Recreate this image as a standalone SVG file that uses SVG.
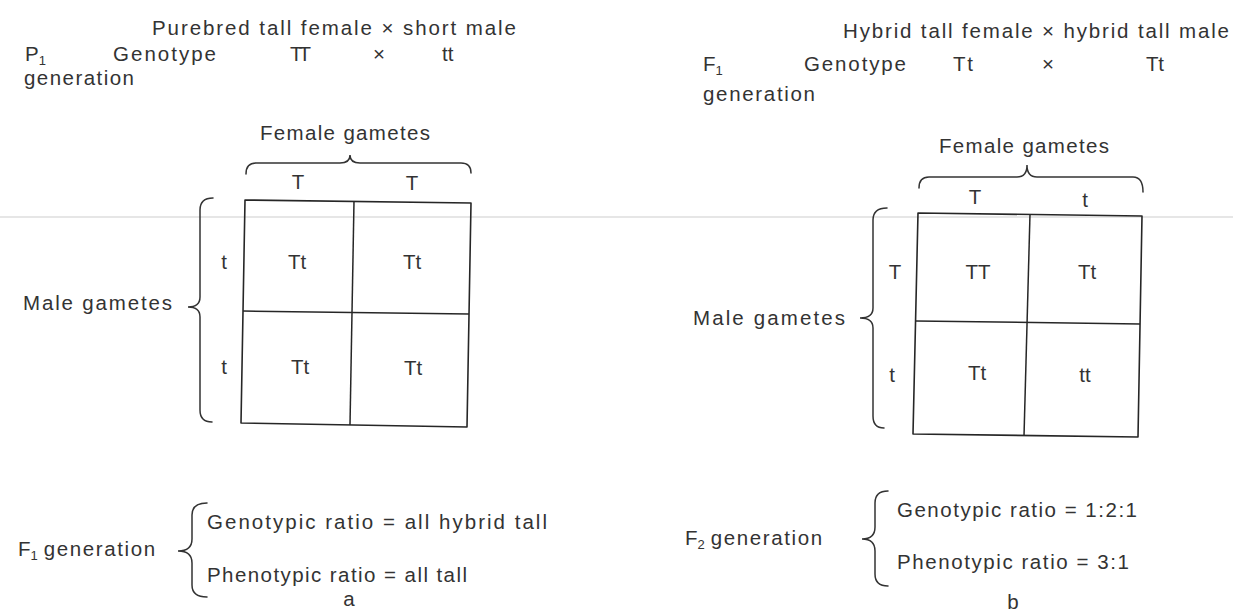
<svg xmlns="http://www.w3.org/2000/svg" width="1233" height="611" viewBox="0 0 1233 611">
<style>
text { font-family: "Liberation Sans", Arial, sans-serif; font-size: 20.5px; fill: #333; }
.c { text-anchor: middle; }
.sub { font-size: 13px; }
.sp { letter-spacing: 1.6px; }
.grid { fill: none; stroke: #262626; stroke-width: 1.6; stroke-linejoin: round; }
.div { stroke: #262626; stroke-width: 1.5; }
.brace { fill: none; stroke: #333; stroke-width: 1.5; stroke-linecap: round; }
</style>
<rect width="1233" height="611" fill="#fff"/>
<line x1="0" y1="217" x2="1233" y2="217" stroke="#e6e6e6" stroke-width="2"/>

<g id="panel-a">
  <g id="a-header">
    <text x="152" y="35" textLength="364">Purebred tall female × short male</text>
    <text x="25" y="61">P<tspan class="sub" dy="4">1</tspan></text>
    <text x="113" y="61" textLength="103">Genotype</text>
    <text x="290" y="61" textLength="21">TT</text>
    <text x="379" y="61" class="c">×</text>
    <text x="442" y="61">tt</text>
    <text x="24" y="85" textLength="110">generation</text>
  </g>
  <g id="a-female">
    <text x="345" y="140" class="c" textLength="170">Female gametes</text>
    <path class="brace" d="M246,174 Q246,163 256,163 L340,163 Q350,163 350,155 Q350,163 360,163 L461,163 Q471,163 471,173"/>
    <text x="298" y="189" class="c">T</text>
    <text x="412" y="190" class="c">T</text>
  </g>
  <g id="a-male">
    <text x="23" y="310" textLength="149">Male gametes</text>
    <path class="brace" d="M213,198 Q200,198 200,210 L200,297 Q200,307 188,307 Q200,307 200,317 L200,410 Q200,422 212,422"/>
    <text x="224" y="269" class="c">t</text>
    <text x="224" y="374" class="c">t</text>
  </g>
  <g id="a-grid">
    <polygon class="grid" points="245,200 471,203 467,427 241,423"/>
    <line class="div" x1="354" y1="201" x2="350" y2="425"/>
    <line class="div" x1="243" y1="311" x2="469" y2="314"/>
    <text x="297" y="269" class="c">Tt</text>
    <text x="412" y="269" class="c">Tt</text>
    <text x="300" y="374" class="c">Tt</text>
    <text x="413" y="375" class="c">Tt</text>
  </g>
  <g id="a-result">
    <text x="18" y="556">F<tspan class="sub" dy="4">1</tspan><tspan class="sp" dx="6" dy="-4">generation</tspan></text>
    <path class="brace" d="M207,503 Q192,503 192,515 L192,539 Q192,551 178,551 Q192,551 192,563 L192,585 Q192,597 207,597"/>
    <text x="207" y="529" textLength="340">Genotypic ratio = all hybrid tall</text>
    <text x="207" y="582" textLength="260">Phenotypic ratio = all tall</text>
    <text x="349" y="606" class="c">a</text>
  </g>
</g>

<g id="panel-b">
  <g id="b-header">
    <text x="843" y="38" textLength="386">Hybrid tall female × hybrid tall male</text>
    <text x="703" y="71">F<tspan class="sub" dy="4">1</tspan></text>
    <text x="804" y="71" textLength="102">Genotype</text>
    <text x="953" y="71" textLength="20">Tt</text>
    <text x="1048" y="71" class="c">×</text>
    <text x="1146" y="71" textLength="18">Tt</text>
    <text x="703" y="101" textLength="112">generation</text>
  </g>
  <g id="b-female">
    <text x="1024" y="153" class="c" textLength="170">Female gametes</text>
    <path class="brace" d="M919,188 Q919,177 929,177 L1017,177 Q1027,177 1027,165 Q1027,177 1037,177 L1133,177 Q1143,177 1143,192"/>
    <text x="975" y="204" class="c">T</text>
    <text x="1085" y="207" class="c">t</text>
  </g>
  <g id="b-male">
    <text x="693" y="325" textLength="152">Male gametes</text>
    <path class="brace" d="M887,208 Q873,208 873,220 L873,308 Q873,318 860,318 Q873,318 873,328 L873,416 Q873,428 884,428"/>
    <text x="895" y="279" class="c">T</text>
    <text x="892" y="382" class="c">t</text>
  </g>
  <g id="b-grid">
    <polygon class="grid" points="918,213 1142,216 1138,437 913,434"/>
    <line class="div" x1="1030" y1="214" x2="1024" y2="436"/>
    <line class="div" x1="916" y1="321" x2="1140" y2="324"/>
    <text x="978" y="279" class="c">TT</text>
    <text x="1087" y="279" class="c">Tt</text>
    <text x="977" y="380" class="c">Tt</text>
    <text x="1085" y="382" class="c">tt</text>
  </g>
  <g id="b-result">
    <text x="685" y="545">F<tspan class="sub" dy="4">2</tspan><tspan class="sp" dx="6" dy="-4">generation</tspan></text>
    <path class="brace" d="M888,491 Q875,491 875,503 L875,527 Q875,539 862,539 Q875,539 875,551 L875,574 Q875,586 888,586"/>
    <text x="897" y="517" textLength="240">Genotypic ratio = 1:2:1</text>
    <text x="897" y="569" textLength="232">Phenotypic ratio = 3:1</text>
    <text x="1013" y="609" class="c">b</text>
  </g>
</g>
</svg>
